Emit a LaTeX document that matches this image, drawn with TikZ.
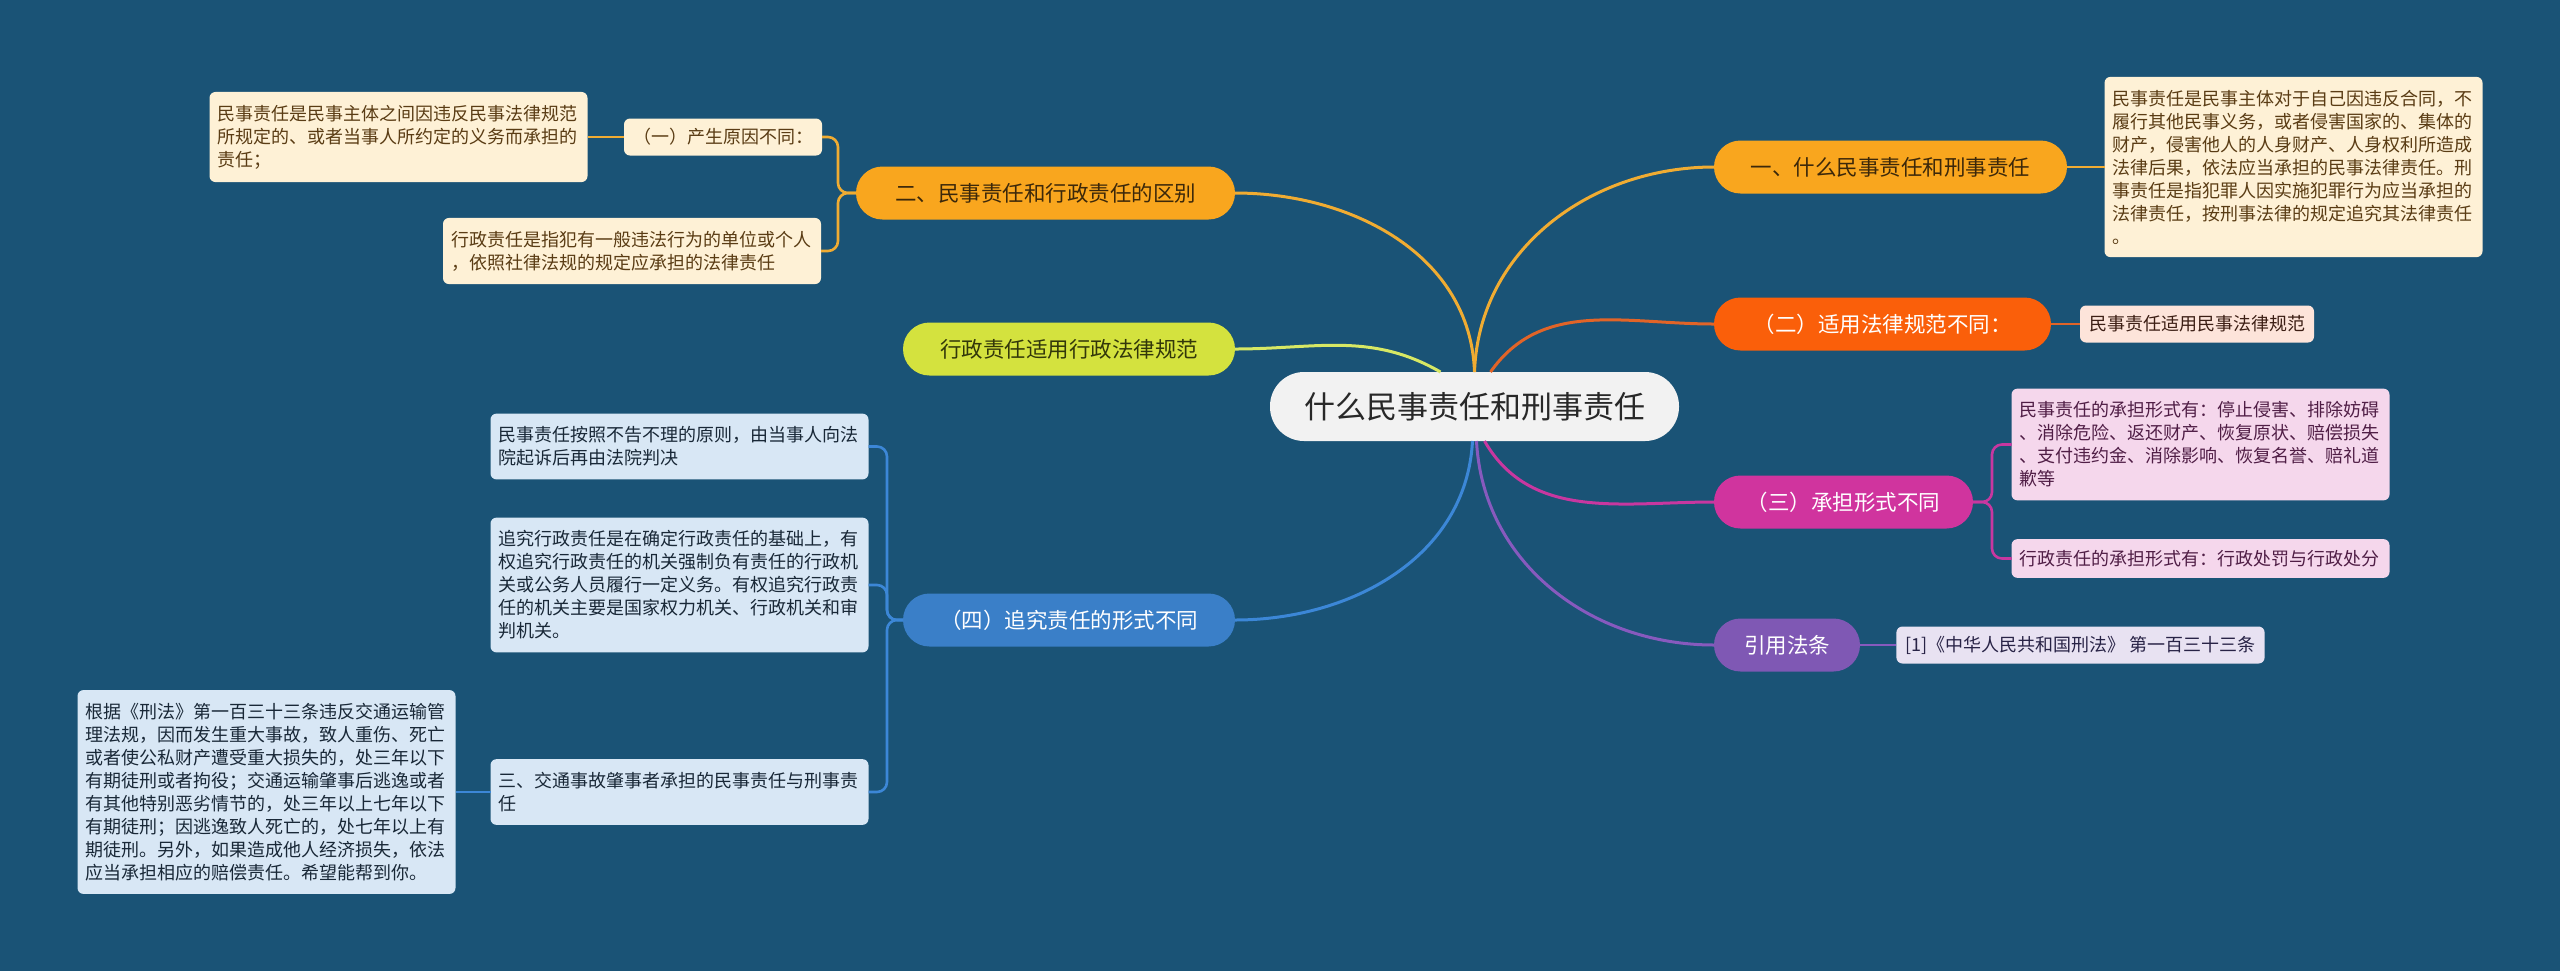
\documentclass[tikz,border=0pt]{standalone}
\usepackage{fontspec}
\setmainfont{Noto Sans CJK SC}
\usetikzlibrary{calc}
\definecolor{bg}{RGB}{26,83,118}
\definecolor{orangeB}{RGB}{249,166,30}
\definecolor{darkB}{RGB}{60,40,10}
\definecolor{redB}{RGB}{250,95,10}
\definecolor{magB}{RGB}{208,52,158}
\definecolor{purB}{RGB}{127,88,180}
\definecolor{yelB}{RGB}{212,226,62}
\definecolor{darkY}{RGB}{50,55,10}
\definecolor{bluB}{RGB}{58,127,200}
\definecolor{centralfill}{RGB}{242,242,242}
\definecolor{centraltext}{RGB}{40,40,40}
\definecolor{cream}{RGB}{254,241,214}
\definecolor{creamT}{RGB}{90,60,20}
\definecolor{peach}{RGB}{253,228,218}
\definecolor{peachT}{RGB}{60,30,20}
\definecolor{pinkL}{RGB}{245,215,236}
\definecolor{pinkT}{RGB}{80,30,70}
\definecolor{lav}{RGB}{232,226,242}
\definecolor{lavT}{RGB}{40,35,70}
\definecolor{lblue}{RGB}{216,231,245}
\definecolor{lblueT}{RGB}{25,40,55}
\definecolor{orangeL}{RGB}{240,172,50}
\definecolor{redL}{RGB}{225,100,40}
\definecolor{yelL}{RGB}{215,232,100}
\definecolor{magL}{RGB}{200,55,160}
\definecolor{purL}{RGB}{135,90,190}
\definecolor{bluL}{RGB}{60,135,215}
\begin{document}
\begin{tikzpicture}[x=0.5pt,y=-0.5pt,
  every node/.style={inner sep=0pt, outer sep=0pt},
  branch/.style={rounded corners=13.25pt, minimum height=26.5pt, font=\fontsize{10.75}{13}\selectfont},
  leaf/.style={rounded corners=3pt, align=left, inner xsep=4pt, inner ysep=6.5pt, font=\fontsize{9}{11.5}\selectfont, text width=181pt},
  leafone/.style={rounded corners=3pt, inner xsep=4.5pt, minimum height=18.5pt, font=\fontsize{9}{11.5}\selectfont},
  link/.style={line width=1.5pt},
  sublink/.style={line width=1.3pt, rounded corners=5pt},
]
\fill[bg] (0,0) rectangle (2560,971);
\useasboundingbox (0,0) rectangle (2560,971);

% central
\node[fill=centralfill, text=centraltext, rounded corners=17pt, minimum width=204.5pt, minimum height=34.5pt, font=\fontsize{15.5}{18}\selectfont] (c) at (1474.5,406.5) {什么民事责任和刑事责任};

% branches
\node[branch, fill=orangeB, text=darkB, minimum width=176.5pt] (b1) at (1890.5,167) {一、什么民事责任和刑事责任};
\node[branch, fill=redB, text=white, minimum width=168.5pt] (b2) at (1882.5,324) {（二）适用法律规范不同：};
\node[branch, fill=magB, text=white, minimum width=129.5pt] (b3) at (1843.5,502) {（三）承担形式不同};
\node[branch, fill=purB, text=white, minimum width=73pt] (b4) at (1787,645) {引用法条};
\node[branch, fill=orangeB, text=darkB, minimum width=189.5pt] (b5) at (1045.5,193) {二、民事责任和行政责任的区别};
\node[branch, fill=yelB, text=darkY, minimum width=166pt] (b6) at (1069,349) {行政责任适用行政法律规范};
\node[branch, fill=bluB, text=white, minimum width=166pt] (b7) at (1069,620) {（四）追究责任的形式不同};

% right leaves
\node[leaf, fill=cream, text=creamT] (r1) at (2293.5,167) {民事责任是民事主体对于自己因违反合同，不\\履行其他民事义务，或者侵害国家的、集体的\\财产，侵害他人的人身财产、人身权利所造成\\法律后果，依法应当承担的民事法律责任。刑\\事责任是指犯罪人因实施犯罪行为应当承担的\\法律责任，按刑事法律的规定追究其法律责任\\。};
\node[leafone, fill=peach, text=peachT] (r2) at (2197,324) {民事责任适用民事法律规范};
\node[leaf, fill=pinkL, text=pinkT] (r3a) at (2200.5,444.5) {民事责任的承担形式有：停止侵害、排除妨碍\\、消除危险、返还财产、恢复原状、赔偿损失\\、支付违约金、消除影响、恢复名誉、赔礼道\\歉等};
\node[leaf, fill=pinkL, text=pinkT, inner ysep=5.5pt] (r3b) at (2200.5,558.5) {行政责任的承担形式有：行政处罚与行政处分};
\node[leafone, fill=lav, text=lavT] (r4) at (2080.5,645) {[1]《中华人民共和国刑法》 第一百三十三条};

% left leaves
\node[leafone, fill=cream, text=creamT] (s1) at (723,137) {（一）产生原因不同：};
\node[leaf, fill=cream, text=creamT] (s1a) at (398.5,137) {民事责任是民事主体之间因违反民事法律规范\\所规定的、或者当事人所约定的义务而承担的\\责任；};
\node[leaf, fill=cream, text=creamT] (s2) at (632,251) {行政责任是指犯有一般违法行为的单位或个人\\，依照社律法规的规定应承担的法律责任};
\node[leaf, fill=lblue, text=lblueT] (la) at (679.5,446.5) {民事责任按照不告不理的原则，由当事人向法\\院起诉后再由法院判决};
\node[leaf, fill=lblue, text=lblueT] (lb) at (679.5,585) {追究行政责任是在确定行政责任的基础上，有\\权追究行政责任的机关强制负有责任的行政机\\关或公务人员履行一定义务。有权追究行政责\\任的机关主要是国家权力机关、行政机关和审\\判机关。};
\node[leaf, fill=lblue, text=lblueT] (lc) at (679.5,792) {三、交通事故肇事者承担的民事责任与刑事责\\任};
\node[leaf, fill=lblue, text=lblueT] (lcc) at (266.5,792) {根据《刑法》第一百三十三条违反交通运输管\\理法规，因而发生重大事故，致人重伤、死亡\\或者使公私财产遭受重大损失的，处三年以下\\有期徒刑或者拘役；交通运输肇事后逃逸或者\\有其他特别恶劣情节的，处三年以上七年以下\\有期徒刑；因逃逸致人死亡的，处七年以上有\\期徒刑。另外，如果造成他人经济损失，依法\\应当承担相应的赔偿责任。希望能帮到你。};

% main connectors
\draw[link, draw=orangeL] (c.north) to[out=88,in=180] (b1.west);
\draw[link, draw=orangeL] (c.north) to[out=92,in=0] (b5.east);
\draw[link, draw=redL] ([xshift=8pt]c.north) to[out=55,in=180] (b2.west);
\draw[link, draw=yelL] ([xshift=-17pt]c.north) to[out=150,in=0] (b6.east);
\draw[link, draw=magL] ([xshift=5pt]c.south) to[out=-60,in=180] (b3.west);
\draw[link, draw=purL] ([xshift=1pt]c.south) to[out=-87,in=180] (b4.west);
\draw[link, draw=bluL] ([xshift=-1pt]c.south) to[out=-93,in=0] (b7.east);

% leaf connectors
\draw[sublink, draw=orangeL] (b1.east) -- (r1.west);
\draw[sublink, draw=redL] (b2.east) -- (r2.west);
\draw[sublink, draw=magL] (b3.east) -- ++(19,0) |- (r3a.west);
\draw[sublink, draw=magL] (b3.east) -- ++(19,0) |- (r3b.west);
\draw[sublink, draw=purL] (b4.east) -- (r4.west);
\draw[sublink, draw=orangeL] (b5.west) -- ++(-18,0) |- (s1.east);
\draw[sublink, draw=orangeL] (b5.west) -- ++(-18,0) |- (s2.east);
\draw[sublink, draw=orangeL] (s1.west) -- (s1a.east);
\draw[sublink, draw=bluL] (b7.west) -- ++(-16,0) |- (la.east);
\draw[sublink, draw=bluL] (b7.west) -- ++(-16,0) |- (lb.east);
\draw[sublink, draw=bluL] (b7.west) -- ++(-16,0) |- (lc.east);
\draw[sublink, draw=bluL] (lc.west) -- (lcc.east);
\end{tikzpicture}
\end{document}
